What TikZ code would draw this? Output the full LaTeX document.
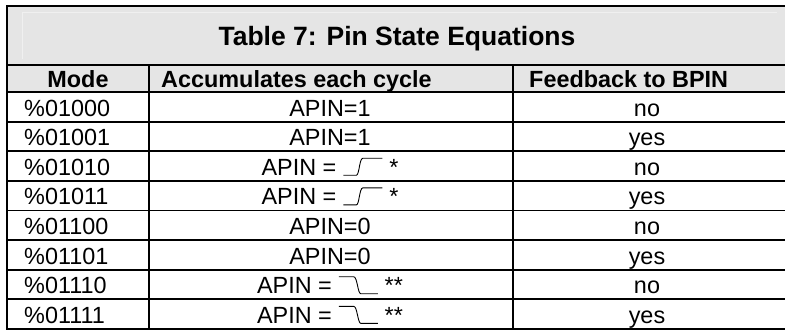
\documentclass[tikz,border=0pt]{standalone}
\usepackage{fontspec}
\setmainfont{Liberation Sans}
\usetikzlibrary{positioning}

\definecolor{bandgray}{RGB}{229,229,229}
\definecolor{bevelgray}{RGB}{240,240,240}

\newcommand{\risewave}{\tikz[baseline=0pt,x=1pt,y=1pt,line width=0.9pt]
  \draw (0,0) -- (13,0) .. controls (16,0) and (16,17) .. (19.5,17) -- (39,17);}
\newcommand{\fallwave}{\tikz[baseline=0pt,x=1pt,y=1pt,line width=0.9pt]
  \draw (0,17) -- (15,17) .. controls (18.5,17) and (19,0) .. (22,0) -- (39,0);}

\begin{document}
\begin{tikzpicture}
  [
  x=1pt,y=1pt,
  rule/.style={line width=1.8pt},
  frame/.style={line width=2pt},
  bevel/.style={draw=bevelgray, line width=1pt},
  title/.style={font=\fontsize{26.5}{30}\selectfont\bfseries, anchor=base, inner sep=0pt},
  head/.style={font=\fontsize{23.4}{26}\selectfont\bfseries, anchor=base west, inner sep=0pt},
  cell/.style={font=\fontsize{23.4}{26}\selectfont, anchor=base, inner sep=0pt},
  ]
  \useasboundingbox (0,0) rectangle (785,-330);
  \fill[bandgray] (7,-6) rectangle (787,-92);
  \draw[bevel] (22.5,-59) |- (777,-12);

  \node[title] (title) at (397,-45) {Table 7: Pin State Equations};
  \node[head, anchor=base] (hmode) at (78,-87) {Mode};
  \node[head] (hacc) at (161,-87) {Accumulates each cycle};
  \node[head] (hfb) at (529,-87) {Feedback to BPIN};

  \foreach \mode/\acc/\fb [count=\i] in {
      \%01000/APIN=1/no,
      \%01001/APIN=1/yes,
      \%01010/APIN = \risewave\ */no,
      \%01011/APIN = \risewave\ */yes,
      \%01100/APIN=0/no,
      \%01101/APIN=0/yes,
      \%01110/APIN = \fallwave\ **/no,
      \%01111/APIN = \fallwave\ **/yes} {
    \pgfmathsetmacro{\yb}{-(92+29.625*(\i-1)+24)}
    \node[cell, anchor=base west] (m\i) at (24,\yb) {\mode};
    \node[cell] (a\i) at (330,\yb) {\acc};
    \node[cell] (f\i) at (647,\yb) {\fb};
  }

  % grid
  \foreach \i in {1,...,7}
    \draw[rule] (7,{-(92+29.625*\i)}) -- (787,{-(92+29.625*\i)});
  \draw[rule] (7,-65) -- (787,-65);
  \draw[rule] (7,-92) -- (787,-92);
  \draw[rule] (149,-65) -- (149,-329);
  \draw[rule] (513,-65) -- (513,-329);
  \draw[frame] (787,-6) -- (7,-6) -- (7,-329) -- (787,-329);
\end{tikzpicture}
\end{document}
